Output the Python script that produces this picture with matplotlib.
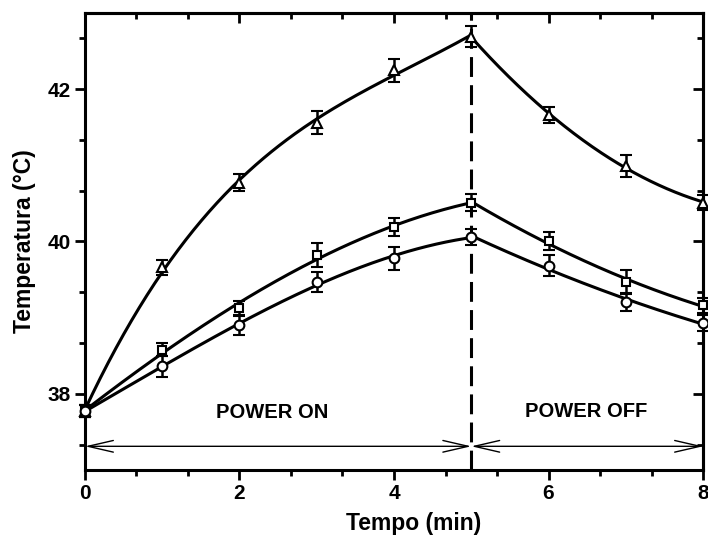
import numpy as np
import matplotlib
matplotlib.use("Agg")
import matplotlib.pyplot as plt
from matplotlib.ticker import MultipleLocator, AutoMinorLocator, NullFormatter

plt.rcParams['font.family'] = ['Liberation Sans', 'DejaVu Sans']
plt.rcParams['font.weight'] = 'bold'

# time (min) and measured temperatures (degC) for the three samples
tempo = np.array([0, 1, 2, 3, 4, 5, 6, 7, 8])
t_tri = np.array([37.77, 39.66, 40.77, 41.56, 42.25, 42.69, 41.66, 40.99, 40.51])
t_sq = np.array([37.77, 38.58, 39.12, 39.82, 40.19, 40.51, 40.01, 39.47, 39.16])
t_circ = np.array([37.77, 38.36, 38.90, 39.47, 39.78, 40.06, 39.68, 39.20, 38.93])

e_tri = np.array([0.08, 0.10, 0.11, 0.15, 0.15, 0.14, 0.10, 0.14, 0.10])
e_sq = np.array([0.08, 0.09, 0.10, 0.16, 0.12, 0.11, 0.12, 0.15, 0.10])
e_circ = np.array([0.08, 0.14, 0.13, 0.13, 0.15, 0.11, 0.14, 0.11, 0.10])

t_switch = 5.0

fig = plt.figure(figsize=(7.08, 5.42), dpi=100)
ax = fig.add_axes([0.120, 0.133, 0.873, 0.843])

on = tempo <= t_switch
off = tempo >= t_switch

for y, e, m in [(t_tri, e_tri, '^'), (t_sq, e_sq, 's'), (t_circ, e_circ, 'o')]:
    # smooth fitted curves for heating and cooling segments
    c_on = np.polyfit(tempo[on], y[on], 3)
    c_off = np.polyfit(tempo[off], y[off], 2)
    xs_on = np.linspace(0, t_switch, 200)
    xs_off = np.linspace(t_switch, 8, 200)
    ax.plot(xs_on, np.polyval(c_on, xs_on), color='black', lw=2.2, zorder=3)
    ax.plot(xs_off, np.polyval(c_off, xs_off), color='black', lw=2.2, zorder=3)
    ax.errorbar(tempo, y, yerr=e, fmt=m, mfc='white', mec='black', ms=7 if m != 's' else 6,
                mew=1.5, ecolor='black', elinewidth=1.8, capsize=4, capthick=1.8,
                zorder=4, clip_on=False)

ax.axvline(t_switch, color='black', lw=2.2, ls=(0, (6.5, 2.7)), zorder=2)

# heating / cooling interval arrows
arr_y = 37.31
arrow = dict(arrowstyle='<->,head_length=1.3,head_width=0.3', color='black', lw=1.0,
             shrinkA=0, shrinkB=0, mutation_scale=14)
ax.annotate('', xy=(0, arr_y), xytext=(t_switch, arr_y), arrowprops=arrow)
ax.annotate('', xy=(t_switch, arr_y), xytext=(8, arr_y), arrowprops=arrow)
ax.text(2.42, 37.76, 'POWER ON', ha='center', va='center', fontsize=14.5, fontweight='bold')
ax.text(6.49, 37.77, 'POWER OFF', ha='center', va='center', fontsize=14.5, fontweight='bold')

ax.set_xlim(0, 8)
ax.set_ylim(37, 43)
ax.xaxis.set_major_locator(MultipleLocator(2))
ax.yaxis.set_major_locator(MultipleLocator(2))
ax.xaxis.set_minor_locator(AutoMinorLocator(3))
ax.yaxis.set_minor_locator(AutoMinorLocator(3))

for s in ax.spines.values():
    s.set_linewidth(2.2)

ax.tick_params(which='both', direction='out', width=2.0, labelsize=15)
ax.tick_params(which='major', length=7)
ax.tick_params(which='minor', length=4)

# inward ticks on the top and right spines
top = ax.secondary_xaxis('top')
right = ax.secondary_yaxis('right')
for sec, loc in [(top, ax.xaxis), (right, ax.yaxis)]:
    sec_axis = sec.xaxis if sec is top else sec.yaxis
    sec_axis.set_major_locator(MultipleLocator(2))
    sec_axis.set_minor_locator(AutoMinorLocator(3))
    sec_axis.set_major_formatter(NullFormatter())
    sec.tick_params(which='both', direction='in', width=2.0)
    sec.tick_params(which='major', length=7)
    sec.tick_params(which='minor', length=4)
    for s in sec.spines.values():
        s.set_linewidth(2.2)

for lbl in ax.get_xticklabels() + ax.get_yticklabels():
    lbl.set_fontweight('bold')

ax.set_xlabel('Tempo (min)', fontsize=16.5, fontweight='bold', va='center')
ax.xaxis.set_label_coords(0.531, -0.118)
ax.set_ylabel('Temperatura (°C)', fontsize=16.5, fontweight='bold', labelpad=8)

fig.savefig('out.png', dpi=100)
